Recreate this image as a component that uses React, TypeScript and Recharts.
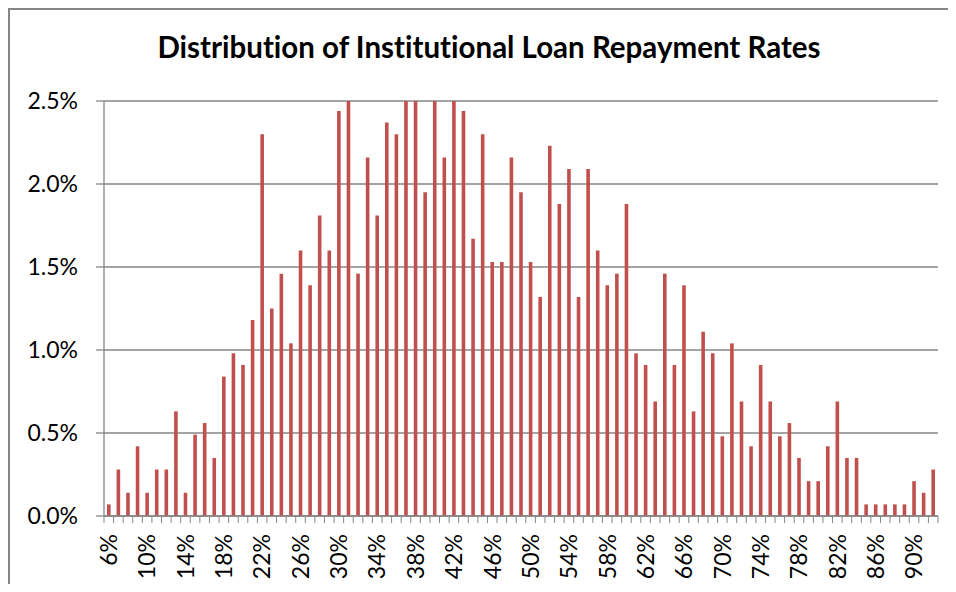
import { Bar, BarChart, CartesianGrid, XAxis, YAxis } from "recharts";

// repayment rate buckets (%)
const rates = [
  6, 7, 8, 9, 10, 11, 12, 13, 14, 15, 16, 17, 18, 19, 20, 21, 22, 23, 24, 25,
  26, 27, 28, 29, 30, 31, 32, 33, 34, 35, 36, 37, 38, 39, 40, 41, 42, 43, 44,
  45, 46, 47, 48, 49, 50, 51, 52, 53, 54, 55, 56, 57, 58, 59, 60, 61, 62, 63,
  64, 65, 66, 67, 68, 69, 70, 71, 72, 73, 74, 75, 76, 77, 78, 79, 80, 81, 82,
  83, 84, 85, 86, 87, 88, 89, 90, 91, 92,
];

// share of institutions (%)
const shares = [
  0.07, 0.28, 0.14, 0.42, 0.14, 0.28, 0.28, 0.63, 0.14, 0.49, 0.56, 0.35, 0.84,
  0.98, 0.91, 1.18, 2.3, 1.25, 1.46, 1.04, 1.6, 1.39, 1.81, 1.6,
  2.44, 2.5, 1.46, 2.16, 1.81, 2.37, 2.3, 2.5, 2.5, 1.95, 2.5, 2.16, 2.5, 2.44,
  1.67, 2.3, 1.53, 1.53, 2.16, 1.95, 1.53, 1.32, 2.23, 1.88, 2.09, 1.32, 2.09,
  1.6, 1.39, 1.46, 1.88,
  0.98, 0.91, 0.69, 1.46, 0.91, 1.39, 0.63, 1.11, 0.98, 0.48, 1.04, 0.69, 0.42,
  0.91, 0.69, 0.48, 0.56, 0.35, 0.21, 0.21, 0.42, 0.69, 0.35, 0.35, 0.07, 0.07,
  0.07, 0.07, 0.07, 0.21, 0.14, 0.28,
];

const yTicks = [0, 0.5, 1, 1.5, 2, 2.5];

const data = rates.map((r, i) => ({ rate: `${r}%`, share: shares[i] }));

const W = 940;
const H = 576;
const PLOT_LEFT = 96;
const PLOT_RIGHT = 930;
const GRAY = "#868686";
const FONT = "Lato, 'Open Sans', sans-serif";
const half = (PLOT_RIGHT - PLOT_LEFT) / rates.length / 2;

const XTick = (props: any) => {
  const { x, y, payload, index } = props;
  const last = index === rates.length - 1;
  return (
    <g>
      <line x1={x - half} x2={x - half} y1={y} y2={y + 7} stroke={GRAY} />
      {last && (
        <line x1={x + half} x2={x + half} y1={y} y2={y + 7} stroke={GRAY} />
      )}
      {index % 4 === 0 && (
        <g transform={`translate(${x},${y + 18})`}>
          <text
            transform="rotate(-90)"
            textAnchor="end"
            dy="0.36em"
            fontSize={23}
            fontFamily={FONT}
            fill="#000"
          >
            {payload.value}
          </text>
        </g>
      )}
    </g>
  );
};

export default function App() {
  return (
    <div style={{ position: "relative", width: W, height: H }}>
      <div
        style={{
          position: "absolute",
          left: 0,
          top: 0,
          width: W,
          height: H,
          borderLeft: `2px solid ${GRAY}`,
          borderTop: `2px solid ${GRAY}`,
          boxSizing: "border-box",
        }}
      />
      <svg
        width={W}
        height={80}
        style={{ position: "absolute", left: 0, top: 0, pointerEvents: "none" }}
      >
        <text
          x={481}
          y={50}
          textAnchor="middle"
          fontSize={29.5}
          fontWeight="bold"
          fontFamily={FONT}
          fill="#000"
          style={{ fontVariantLigatures: "none" }}
        >
          Distribution of Institutional Loan Repayment Rates
        </text>
      </svg>
      <div style={{ position: "absolute", left: 0, top: 0 }}>
        <BarChart
          width={W}
          height={H}
          data={data}
          margin={{ top: 93, right: W - PLOT_RIGHT, left: 0, bottom: 8 }}
        >
          <CartesianGrid vertical={false} stroke={GRAY} strokeWidth={1.3} />
          <XAxis
            dataKey="rate"
            interval={0}
            height={60}
            tickSize={0}
            tickMargin={0}
            tickLine={false}
            axisLine={{ stroke: GRAY, strokeWidth: 1.3 }}
            tick={<XTick />}
          />
          <YAxis
            width={PLOT_LEFT}
            domain={[0, 2.5]}
            ticks={yTicks}
            allowDataOverflow
            tickSize={8}
            tickMargin={18}
            tickFormatter={(v: number) => `${v.toFixed(1)}%`}
            axisLine={{ stroke: GRAY, strokeWidth: 1.3 }}
            tickLine={{ stroke: GRAY, strokeWidth: 1.3 }}
            tick={{ fontSize: 23, fontFamily: FONT, fill: "#000" }}
          />
          <Bar
            dataKey="share"
            fill="#C0504D"
            barSize={3.6}
            isAnimationActive={false}
          />
        </BarChart>
      </div>
    </div>
  );
}
